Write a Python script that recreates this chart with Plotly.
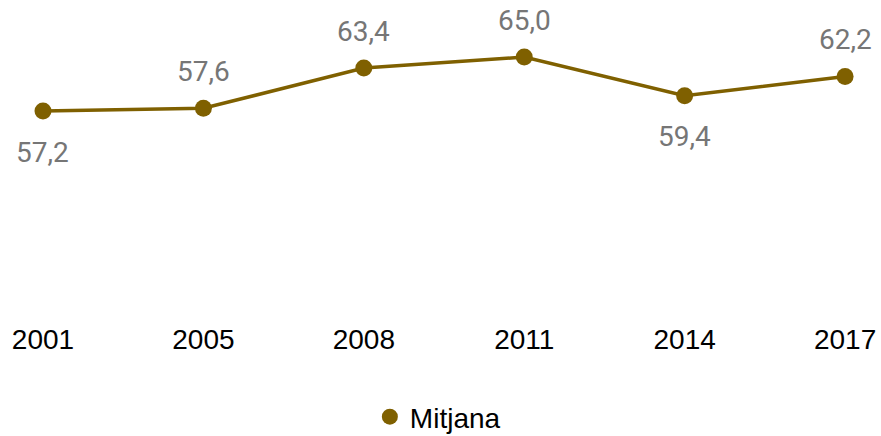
import plotly.graph_objects as go

years = ["2001", "2005", "2008", "2011", "2014", "2017"]
values = [57.2, 57.6, 63.4, 65.0, 59.4, 62.2]
labels = ["57,2", "57,6", "63,4", "65,0", "59,4", "62,2"]
label_side = ["below", "above", "above", "above", "below", "above"]
series_name = "Mitjana"

color = "#7F6000"
W, H = 881, 436

fig = go.Figure()
fig.add_trace(go.Scatter(
    x=years, y=values, mode="lines",
    line=dict(color=color, width=3.5),
    showlegend=False, hoverinfo="skip",
))
fig.add_trace(go.Scatter(
    x=years, y=values, mode="markers", name=series_name,
    marker=dict(color=color, size=17), showlegend=True, cliponaxis=False,
))

for i, (v, lab, side) in enumerate(zip(values, labels, label_side)):
    fig.add_annotation(
        x=i, y=v, xref="x", yref="y", text=lab, showarrow=False,
        yshift=(-41 if side == "below" else 37),
        font=dict(family="Roboto", size=28, color="#767676"),
        xanchor="center", yanchor="middle",
    )

fig.update_layout(
    width=W, height=H, autosize=False,
    margin=dict(l=0, r=0, t=0, b=116),
    paper_bgcolor="white", plot_bgcolor="white",
    xaxis=dict(type="category", range=[-0.268, 5.224], showgrid=False, zeroline=False,
               showline=False, ticks="", automargin=False,
               tickfont=dict(family="Liberation Sans, Arial", size=28, color="black")),
    yaxis=dict(range=[27.00, 73.24], visible=False),
    legend=dict(orientation="h", xref="container", yref="container",
                x=0.497, xanchor="center", y=19 / 436, yanchor="middle",
                font=dict(family="Liberation Sans, Arial", size=28, color="black"),
                itemwidth=30, bgcolor="rgba(0,0,0,0)"),
)

fig.write_html(
    "out.html",
    config={"responsive": False, "displayModeBar": False},
    post_script="document.body.style.margin='0';document.body.style.overflow='hidden';",
)
